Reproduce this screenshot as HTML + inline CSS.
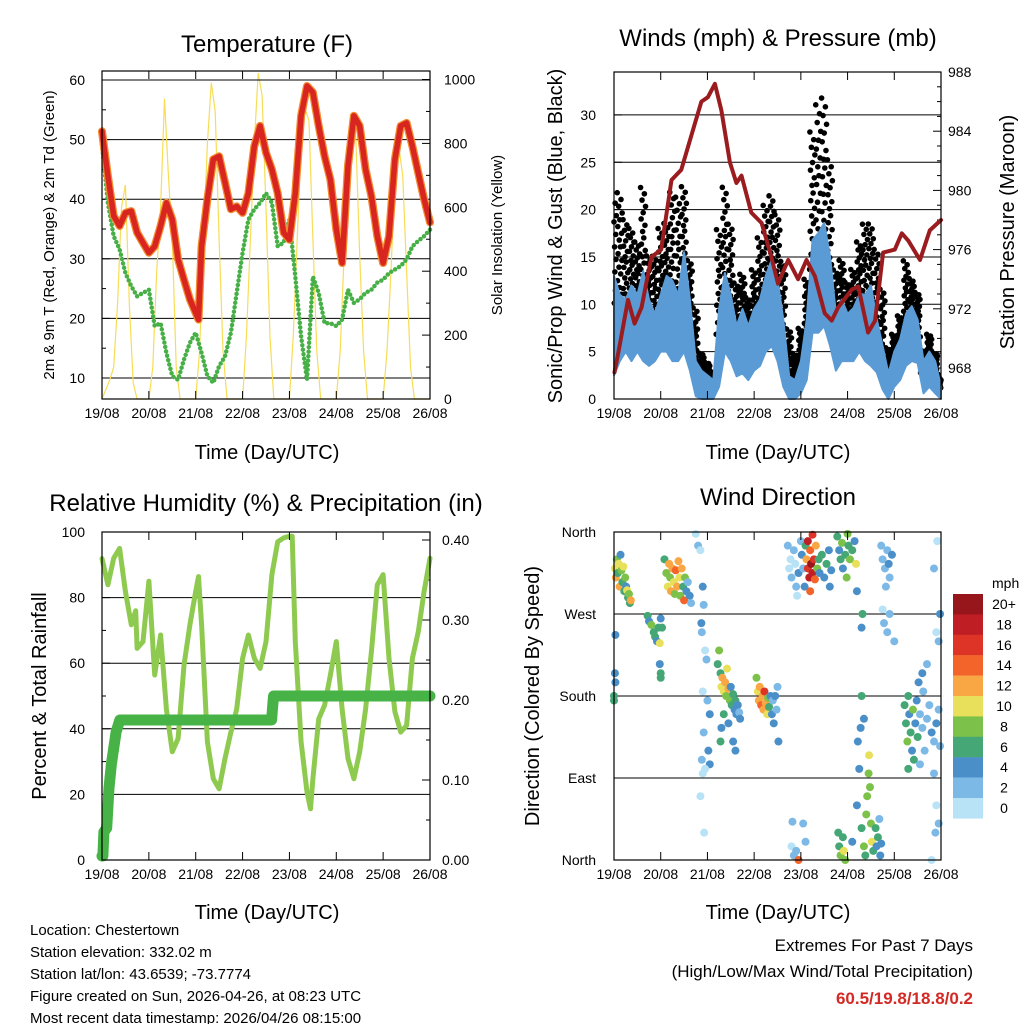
<!DOCTYPE html>
<html><head><meta charset="utf-8"><style>
html,body{margin:0;padding:0;background:#fff;}
svg{display:block;font-family:"Liberation Sans",Arial,sans-serif;}
</style></head><body>
<svg id="s" width="1024" height="1024" viewBox="0 0 1024 1024">
<g id="g1"></g>
<g id="g2"></g>
<g id="g3"></g>
<g id="g4"></g>
<text x="267" y="52" font-size="24" text-anchor="middle">Temperature (F)</text>
<text x="778" y="46" font-size="24" text-anchor="middle">Winds (mph) &amp; Pressure (mb)</text>
<text x="266" y="511" font-size="24" text-anchor="middle">Relative Humidity (%) &amp; Precipitation (in)</text>
<text x="778" y="505" font-size="24" text-anchor="middle">Wind Direction</text>
<text x="267" y="459" font-size="20" text-anchor="middle">Time (Day/UTC)</text>
<text x="778" y="459" font-size="20" text-anchor="middle">Time (Day/UTC)</text>
<text x="267" y="919" font-size="20" text-anchor="middle">Time (Day/UTC)</text>
<text x="778" y="919" font-size="20" text-anchor="middle">Time (Day/UTC)</text>
<text transform="translate(54,235) rotate(-90)" font-size="15" text-anchor="middle">2m &amp; 9m T (Red, Orange) &amp; 2m Td (Green)</text>
<text transform="translate(502,235) rotate(-90)" font-size="15" text-anchor="middle">Solar Insolation (Yellow)</text>
<text transform="translate(562,236) rotate(-90)" font-size="20" text-anchor="middle">Sonic/Prop Wind &amp; Gust (Blue, Black)</text>
<text transform="translate(1014,232) rotate(-90)" font-size="20" text-anchor="middle">Station Pressure (Maroon)</text>
<text transform="translate(46,696) rotate(-90)" font-size="20" text-anchor="middle">Percent &amp; Total Rainfall</text>
<text transform="translate(539,696) rotate(-90)" font-size="20" text-anchor="middle">Direction (Colored By Speed)</text>
<g font-size="15">
<text x="30" y="935">Location: Chestertown</text>
<text x="30" y="957">Station elevation: 332.02 m</text>
<text x="30" y="979">Station lat/lon: 43.6539; -73.7774</text>
<text x="30" y="1001">Figure created on Sun, 2026-04-26, at 08:23 UTC</text>
<text x="30" y="1023">Most recent data timestamp: 2026/04/26 08:15:00</text>
</g>
<g font-size="17" text-anchor="end">
<text x="973" y="951">Extremes For Past 7 Days</text>
<text x="973" y="977">(High/Low/Max Wind/Total Precipitation)</text>
<text x="973" y="1004" fill="#d42a25" font-weight="bold">60.5/19.8/18.8/0.2</text>
</g>
</svg>
<script>
// ---------- data ----------
var dayLabels=["19/08","20/08","21/08","22/08","23/08","24/08","25/08","26/08"];
var tempDays=[0,0.125,0.25,0.375,0.5,0.625,0.75,0.875,1,1.125,1.25,1.375,1.5,1.625,1.75,1.875,2,2.06,2.125,2.25,2.375,2.5,2.625,2.75,2.875,3,3.125,3.25,3.375,3.5,3.625,3.75,3.875,4,4.125,4.25,4.375,4.5,4.625,4.75,4.875,5,5.125,5.25,5.375,5.5,5.625,5.75,5.875,6,6.125,6.25,6.375,6.5,6.625,6.75,6.875,7];
var tempRed=[51.4,43.9,37.2,35.5,37.7,38,34.4,32.7,31,32.1,35.5,39.4,36.6,29.9,26.5,23.2,20.9,19.8,32.1,40,46.7,47.2,42.8,38.3,38.8,37.7,41,48.9,52.3,47.8,45,41,34.4,33.2,41,54,59,57.9,52.3,47.2,43.3,34.9,29.3,45.6,54,52.3,45,40.5,33.8,29.3,33.8,46.7,52.3,52.8,48.9,44.4,40,36.1];
var dewDays=[0,0.125,0.25,0.375,0.5,0.625,0.75,0.875,1,1.125,1.25,1.375,1.5,1.625,1.75,1.875,2,2.125,2.25,2.375,2.5,2.625,2.75,2.875,3,3.125,3.25,3.375,3.5,3.625,3.75,3.875,4,4.125,4.25,4.375,4.5,4.625,4.75,4.875,5,5.125,5.25,5.375,5.5,5.625,5.75,5.875,6,6.125,6.25,6.375,6.5,6.625,6.75,6.875,7];
var dewGreen=[49.2,39.4,33.8,31.6,27.6,25.4,23.7,24.3,24.8,18.7,19.2,14.2,10.3,9.7,13.1,15.9,17.6,14.2,10.3,9.2,12,13.6,17.6,24.3,31,36.6,38.3,39.4,41,39.4,32.1,32.7,36.6,27,17,9.7,27,24.3,19.2,19.2,18.7,19.8,24.8,22.6,23.2,24.3,24.8,26,26.5,27.6,28.2,28.8,29.9,32.1,33,33.8,34.9];
var solar=[0,30,60,100,300,600,670,300,50,0,0,0,
 0,100,400,600,940,700,500,100,0,0,0,0,
 0,150,500,800,990,900,500,150,0,0,0,0,
 0,200,500,800,1020,950,600,200,0,0,0,0,
 0,200,500,800,910,870,500,150,0,0,0,0,
 0,150,450,750,860,820,450,150,0,0,0,0,
 0,150,400,700,790,700,400,100,0,0,0,0,0];
var windDays=[0,0.125,0.25,0.375,0.5,0.625,0.75,0.875,1,1.125,1.25,1.375,1.5,1.625,1.75,1.875,2,2.125,2.25,2.375,2.5,2.625,2.75,2.875,3,3.125,3.25,3.375,3.5,3.625,3.75,3.875,4,4.125,4.25,4.375,4.5,4.625,4.75,4.875,5,5.125,5.25,5.375,5.5,5.625,5.75,5.875,6,6.125,6.25,6.375,6.5,6.625,6.75,6.875,7];
var windHi=[13,11,10.5,12,11,13.5,10.5,9,11,13,12.5,11,15.5,10.5,4,3,2.5,2,9.5,13.3,11,7.7,9.5,7.7,9.5,10.5,13,14.7,12.6,8.4,2.4,2,4,8.4,16.8,17.5,18.6,15,9,10.5,9,9.6,11,11,12,8.4,5.6,2.7,5,6.3,9,9.8,8.4,4,5,4,1.3];
var windLo=[2.5,4,5,4,5,4,3.5,4,5,5,4,4,5,3,0.3,0,0,0,1.3,5,4,2.4,2.7,2,3,3.5,5,5.6,4,1.3,0,0,0.6,2,7,7,7.7,5.6,3,4,4,4,5,4,3.5,2.8,1,0,1.3,2,3.5,4,3.8,0.6,1.3,0.6,0];
var gustHi=[22,22.5,19.5,18.5,17,23,15.5,15.5,18.5,19,22.5,22,23,15,10,5,4,3,18.5,23,19,12.6,13.5,11,14,17.5,21,22,20,15,7.7,5,7.7,13,29,32,32.7,26,14,15,12.6,14,17,19,19,16.3,12,5.6,7,9,15,13,11.5,5.3,7,5,2.4];
var presDays=[0.01,0.09,0.3,0.44,0.59,0.8,1.01,1.23,1.44,1.73,1.87,2.01,2.16,2.3,2.48,2.62,2.73,2.94,3.16,3.37,3.51,3.73,3.94,4.12,4.3,4.51,4.66,4.8,5.09,5.23,5.44,5.59,5.76,6.01,6.16,6.3,6.55,6.76,7.0];
var pressure=[967.7,969,972.6,971,972.1,975.5,976,980.7,981.4,984.5,986,986.3,987.2,985.4,981.9,980.5,981,978.5,977.8,975.5,973.7,975.3,974,975.3,974.2,971.7,971.2,972.1,973.3,973.5,970.4,971.2,975.8,976,977.1,976.6,975.3,977.3,978];
var rhDays=[0,0.125,0.25,0.375,0.5,0.625,0.72,0.75,0.875,1,1.125,1.25,1.375,1.5,1.625,1.75,1.875,2,2.06,2.125,2.25,2.375,2.5,2.625,2.75,2.875,3,3.125,3.25,3.375,3.5,3.625,3.75,3.875,4,4.06,4.125,4.25,4.375,4.45,4.5,4.625,4.75,4.875,5,5.125,5.25,5.375,5.5,5.625,5.75,5.875,6,6.125,6.25,6.375,6.5,6.625,6.75,6.875,7];
var rh=[91.9,83.9,92,95,81.9,71.7,76,64.5,66.6,85,56.4,68.6,46,33,37,59.4,71.7,81.9,86.4,71.7,36,24.8,21.7,30.9,39,46,61.5,68.6,61.5,58.4,66.6,87,97,98.2,98.7,98.7,66.6,36,20.7,15.6,24.8,43,47.2,56.4,66.6,46,30.9,24.8,33,46,63.5,83.9,87,61.5,45.2,39,41,61.5,69.6,81.9,92];
var precipDays=[0,0.02,0.04,0.1,0.15,0.2,0.3,0.38,3.62,3.66,7];
var precip=[0.005,0.005,0.035,0.04,0.09,0.12,0.16,0.175,0.175,0.205,0.205];
var dirDays=[0.02,0.04,0.06,0.08,0.1,0.12,0.14,0.16,0.18,0.2,0.22,0.24,0.26,0.28,0.3,0.32,0.34,0.36,0.72,0.75,0.8,0.85,0.88,0.92,0.95,0.98,1.0,1.03,0.03,0.02,0.03,0,0,0.98,1.0,1.0,
1.08,1.12,1.15,1.18,1.2,1.22,1.25,1.28,1.3,1.32,1.35,1.38,1.4,1.42,1.45,1.48,1.5,1.52,1.55,1.58,1.62,1.65,
1.75,1.8,1.85,1.9,1.92,1.88,1.95,1.98,1.9,2.0,2.05,1.92,1.88,1.9,1.85,2.02,2.05,1.93,1.95,1.87,
2.22,2.25,2.28,2.3,2.32,2.35,2.38,2.4,2.42,2.45,2.48,2.5,2.52,2.55,2.58,2.6,2.62,2.65,2.68,2.7,2.35,2.3,2.28,2.45,2.55,2.6,
3.05,3.08,3.1,3.12,3.15,3.18,3.2,3.22,3.25,3.28,3.3,3.32,3.35,3.38,3.4,3.45,3.48,3.42,3.5,3.52,
3.8,3.85,3.9,3.95,4.05,4.1,3.82,
3.72,3.75,3.78,3.8,3.85,3.88,3.9,3.92,3.95,4.0,4.02,4.05,4.08,4.1,4.12,4.15,4.18,4.2,4.22,4.25,4.28,4.3,4.32,4.35,4.38,4.4,4.45,4.5,4.55,4.6,4.62,4.65,4.2,4.25,4.15,
4.78,4.82,4.85,4.88,4.9,4.95,5.0,5.02,5.05,5.1,5.15,5.18,5.2,4.98,
4.8,4.82,4.85,4.9,4.92,4.95,5.1,5.2,5.25,5.3,5.35,5.38,5.4,5.42,5.45,5.46,5.48,5.5,5.52,5.55,5.6,5.62,5.65,5.7,5.72,5.68,5.22,5.28,5.3,5.35,5.3,5.32,
5.72,5.75,5.8,5.85,5.88,5.9,5.95,5.82,5.78,5.85,5.9,6.0,5.75,
6.22,6.25,6.28,6.3,6.32,6.35,6.38,6.4,6.42,6.45,6.48,6.5,6.52,6.55,6.6,6.62,6.65,6.7,6.75,6.8,6.85,6.9,6.95,6.98,6.55,6.6,6.7,6.3,6.85,6.9,6.95,6.88,6.8,6.9,6.95,6.98,6.92,6.85];
var dirDeg=[320,310,330,315,325,300,335,318,305,322,295,310,300,296,288,292,282,285,268,262,258,250,245,240,255,238,265,255,247,205,195,180,175,215,205,200,
330,315,300,325,310,295,320,305,292,318,300,328,310,290,320,300,285,310,295,305,290,282,
358,345,340,300,280,250,230,220,185,175,160,140,110,95,70,120,105,30,100,260,
215,230,205,190,200,185,195,180,210,188,175,190,170,182,165,175,160,170,162,155,160,145,130,150,130,120,
200,185,175,190,170,180,165,185,172,160,178,168,180,160,175,180,165,150,190,130,
15,5,10,0,40,20,42,
345,320,330,310,340,325,300,290,315,350,335,320,300,345,330,320,310,340,325,315,330,308,345,320,330,315,335,310,325,340,300,318,295,357,350,
355,340,330,348,320,335,358,345,330,340,350,325,295,310,
30,15,5,25,10,0,20,60,100,35,15,5,50,70,95,115,80,40,20,10,35,15,25,5,18,45,130,145,180,155,255,270,
345,330,320,340,325,310,335,300,260,250,270,240,275,
170,150,130,180,160,140,120,165,110,150,175,135,195,160,145,185,120,155,170,140,130,150,165,125,105,205,215,100,95,60,40,30,0,250,240,270,350,320];
var dirSpeed=[10,12,8,6,10,12,4,8,6,10,6,8,4,10,6,8,6,12,6,4,8,6,6,4,6,10,4,6,4,4,4,6,6,4,6,6,
6,8,10,12,8,12,12,10,8,14,12,12,10,8,12,6,14,8,4,2,4,2,
0,2,0,4,2,2,0,2,0,2,4,2,2,0,0,4,4,0,0,4,
6,8,6,10,12,10,12,8,10,12,8,4,6,6,4,6,4,4,2,4,6,4,6,4,4,4,
8,10,12,12,14,12,12,16,12,10,8,6,4,4,2,4,2,4,2,4,
0,2,2,14,2,2,2,
2,0,0,2,2,0,2,0,4,2,4,2,4,6,12,16,18,14,20,18,16,14,12,8,6,4,6,4,6,4,4,4,14,16,18,
6,4,6,8,4,6,8,6,8,6,4,10,4,8,
6,6,8,6,10,8,4,4,4,6,8,6,8,8,8,10,8,8,10,6,6,4,6,4,4,2,4,4,6,4,4,6,
2,2,2,2,4,2,4,2,2,2,2,2,0,
6,6,8,6,4,6,4,8,6,4,4,6,4,2,2,2,2,2,2,4,2,4,2,2,2,4,2,6,2,0,2,2,0,0,2,4,0,2];
var legendLabels=["20+","18","16","14","12","10","8","6","4","2","0"];
var legendColors=["#96161b","#be1e24","#de3427","#f26429","#f9a644","#e8e05a","#7cc24a","#45a775","#4a8fc8","#7db9e6","#b8e2f6"];

// ---------- helpers ----------
var NS="http://www.w3.org/2000/svg";
function mk(parent,tag,attrs){var e=document.createElementNS(NS,tag);for(var k in attrs)e.setAttribute(k,attrs[k]);parent.appendChild(e);return e;}
function xScale(x0,x1){return function(d){return x0+(x1-x0)*d/7;};}
function frame(g,x0,x1,y0,y1){
  for(var i=0;i<=7;i++){
    var x=x0+(x1-x0)*i/7;
    var t1=mk(g,'line',{x1:x,x2:x,y1:y1,y2:y1-8,stroke:'#000','stroke-width':1});
    
    
    var t2=mk(g,'line',{x1:x,x2:x,y1:y0,y2:y0+8,stroke:'#000','stroke-width':1});
    
    
    var tl=mk(g,'text',{x:x,y:y1+19,'font-size':14,'text-anchor':'middle'});
    tl.textContent=dayLabels[i];
    
    
  }
}
function border(g,x0,x1,y0,y1){
  var r=mk(g,'rect',{x:x0,y:y0,width:x1-x0,height:y1-y0,fill:'none',stroke:'#000','stroke-width':1.2});
  
  
}
function grid(g,x0,x1,y){
  var l=mk(g,'line',{x1:x0,x2:x1,y1:y,y2:y,stroke:'#000','stroke-width':1});
  
  
}
function ylab(g,x,y,txt,anchor){
  var t=mk(g,'text',{x:x,y:y+5,'font-size':14,'text-anchor':anchor});
  t.textContent=txt;
  
  
}
function ytick(g,x,y,len){
  var l=mk(g,'line',{x1:x,x2:x+len,y1:y,y2:y,stroke:'#000','stroke-width':1});
  
  
}
function pts(xs,ys,fx,fy){var a=[];for(var i=0;i<xs.length;i++)a.push(fx(xs[i]).toFixed(1)+','+fy(ys[i]).toFixed(1));return a.join(' ');}

// ---------- Panel 1: temperature ----------
(function(){
  var g=document.getElementById('g1');
  var x0=102,x1=430,y0=71,y1=399;
  var X=xScale(x0,x1);
  var YL=function(v){return 378-(v-10)*5.96;};
  var YR=function(s){return 399-s*0.3195;};
  [10,20,30,40,50,60].forEach(function(v){grid(g,x0,x1,YL(v));ylab(g,85,YL(v),String(v),'end');});
  for(var s=0;s<=1000;s+=100){ytick(g,x1,YR(s),s%200===0?-8:-4);}
  [0,200,400,600,800,1000].forEach(function(s){ylab(g,444,YR(s),String(s),'start');});
  for(var v=10;v<=60;v+=5){ytick(g,x0,YL(v),v%10===0?8:4);}
  var sd=[];for(var i=0;i<solar.length;i++)sd.push(i/12);
  var sl=mk(g,'polyline',{points:pts(sd,solar,X,YR),fill:'none',stroke:'#f7dd55','stroke-width':1.2});
  
  
  var gl=mk(g,'polyline',{points:pts(dewDays,dewGreen,X,YL),fill:'none',stroke:'#46b046','stroke-width':4.5,'stroke-dasharray':'0 4.5','stroke-linecap':'round','stroke-linejoin':'round'});
  
  
  var ol=mk(g,'polyline',{points:pts(tempDays,tempRed,X,YL),fill:'none',stroke:'#f28a2e','stroke-width':8,'stroke-linejoin':'round','stroke-linecap':'round'});
  
  
  var rl=mk(g,'polyline',{points:pts(tempDays,tempRed,X,YL),fill:'none',stroke:'#d8251f','stroke-width':5.5,'stroke-linejoin':'round','stroke-linecap':'round'});
  
  
  grid(g,x0,x1,YL(60));
  border(g,x0,x1,y0,y1);
  frame(g,x0,x1,y0,y1);
})();

// ---------- Panel 2: winds & pressure ----------
(function(){
  var g=document.getElementById('g2');
  var x0=614,x1=941,y0=72,y1=399;
  var X=xScale(x0,x1);
  var YL=function(v){return 399-v*9.47;};
  var YR=function(p){return 72+(988-p)*14.8;};
  [5,10,15,20,25,30].forEach(function(v){grid(g,x0,x1,YL(v));});
  [0,5,10,15,20,25,30].forEach(function(v){ylab(g,596,YL(v),String(v),'end');ytick(g,x0,YL(v),8);});
  for(var p=968;p<=988;p+=1){ytick(g,x1,YR(p),p%4===0?-8:-4);}
  [968,972,976,980,984,988].forEach(function(p){ylab(g,948,YR(p),String(p),'start');});
  var fr=[0.05,0.95,0.3,0.7,0.5,0.15,0.85,0.4,0.6,0.25,0.75,0.1,0.55,0.35,0.9,0.2,0.65,0.45,0.8,0.0];
  var dg=mk(g,'g',{fill:'#000'});
  
  
  for(var i=0;i<windDays.length;i++){
    var lo=windLo[i]+(windHi[i]-windLo[i])*0.6, hi=gustHi[i];
    for(var k=0;k<fr.length;k++){
      var dd=windDays[i]+(k/fr.length-0.5)*0.125;
      if(dd<0||dd>7)continue;
      var c=mk(dg,'circle',{cx:X(dd),cy:YL(lo+(hi-lo)*fr[k]),r:2.8});
      
      
    }
  }
  var top=pts(windDays,windHi,X,YL), bot=[];
  for(var j=windDays.length-1;j>=0;j--)bot.push(X(windDays[j]).toFixed(1)+','+YL(windLo[j]).toFixed(1));
  var band=mk(g,'polygon',{points:top+' '+bot.join(' '),fill:'#5b9bd5',stroke:'#5b9bd5','stroke-width':2,'stroke-linejoin':'round'});
  
  
  var pl=mk(g,'polyline',{points:pts(presDays,pressure,X,YR),fill:'none',stroke:'#9b1c1f','stroke-width':4,'stroke-linejoin':'round','stroke-linecap':'round'});
  
  
  border(g,x0,x1,y0,y1);
  frame(g,x0,x1,y0,y1);
})();

// ---------- Panel 3: RH & precip ----------
(function(){
  var g=document.getElementById('g3');
  var x0=102,x1=430,y0=532,y1=860;
  var X=xScale(x0,x1);
  var YL=function(v){return 860-v*3.28;};
  var YR=function(p){return 860-p*800;};
  [20,40,60,80].forEach(function(v){grid(g,x0,x1,YL(v));});
  [0,20,40,60,80,100].forEach(function(v){ylab(g,85,YL(v),String(v),'end');});
  for(var v=0;v<=100;v+=10)ytick(g,x0,YL(v),v%20===0?8:4);
  for(var p=0;p<=0.4001;p+=0.05)ytick(g,x1,YR(p),Math.round(p*100)%10===0?-8:-4);
  [0,0.1,0.2,0.3,0.4].forEach(function(p){ylab(g,442,YR(p),p.toFixed(2),'start');});
  var rl=mk(g,'polyline',{points:pts(rhDays,rh,X,YL),fill:'none',stroke:'#8fca50','stroke-width':5,'stroke-linejoin':'round','stroke-linecap':'round'});
  
  
  var pr=mk(g,'polyline',{points:pts(precipDays,precip,X,YR),fill:'none',stroke:'#47b347','stroke-width':11,'stroke-linejoin':'round','stroke-linecap':'round'});
  
  
  border(g,x0,x1,y0,y1);
  frame(g,x0,x1,y0,y1);
})();

// ---------- Panel 4: wind direction ----------
(function(){
  var g=document.getElementById('g4');
  var x0=614,x1=941,y0=532,y1=860;
  var X=xScale(x0,x1);
  var Y=function(d){return 860-d*(328/360);};
  [90,180,270].forEach(function(d){grid(g,x0,x1,Y(d));});
  var names=["North","East","South","West","North"];
  [0,90,180,270,360].forEach(function(d,i){ylab(g,596,Y(d),names[i],'end');ytick(g,x0,Y(d),8);ytick(g,x1,Y(d),-8);});
  for(var i=0;i<dirDays.length;i++){
    var ci=10-Math.min(10,Math.floor(dirSpeed[i]/2));
    var c=mk(g,'circle',{cx:X(dirDays[i]),cy:Y(dirDeg[i]),r:4,fill:legendColors[ci]});
    
    
  }
  border(g,x0,x1,y0,y1);
  frame(g,x0,x1,y0,y1);
  var lg=mk(g,'g',{});
  
  
  var mt=mk(lg,'text',{x:992,y:588,'font-size':14});
  mt.textContent='mph';
  
  
  for(var k=0;k<legendLabels.length;k++){
    var yy=594+k*20.4;
    var r=mk(lg,'rect',{x:953,y:yy,width:30,height:20.6,fill:legendColors[k]});
    
    
    var t=mk(lg,'text',{x:1004,y:yy+15,'font-size':14,'text-anchor':'middle'});
    t.textContent=legendLabels[k];
    
    
  }
})();
</script>
</body></html>
